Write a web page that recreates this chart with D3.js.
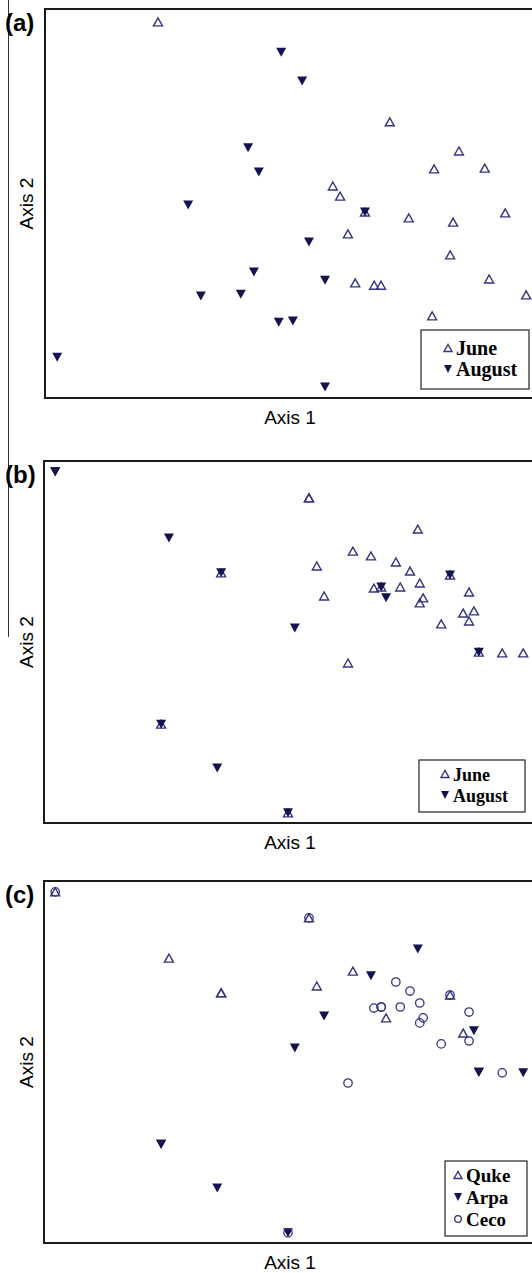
<!DOCTYPE html>
<html>
<head>
<meta charset="utf-8">
<script src="https://cdn.jsdelivr.net/npm/d3@7"></script>
<style>
  body { margin: 0; background: #fff; }
  svg { display: block; }
</style>
</head>
<body>
<div id="chart"></div>
<script>
// panel (a): ordination scores (0-100 units)
var juneA = [
  [23.2, 96.7], [70.8, 71.0], [85.0, 63.5], [79.9, 58.9], [90.3, 59.1],
  [59.1, 54.5], [60.6, 51.9], [74.7, 46.3], [83.8, 45.2], [94.5, 47.6],
  [62.2, 42.2], [83.2, 36.8], [63.7, 29.6], [67.6, 29.0], [69.0, 29.0],
  [91.2, 30.6], [98.8, 26.5], [79.5, 21.1], [65.7, 47.8]
];
var augustA = [
  [48.5, 88.9], [52.8, 81.5], [41.7, 64.3], [43.9, 58.1], [29.4, 49.6],
  [65.7, 47.8], [54.2, 40.1], [57.5, 30.3], [32.0, 26.2], [40.2, 26.7],
  [42.9, 32.4], [48.0, 19.5], [50.9, 19.8], [2.5, 10.5], [57.5, 2.8]
];

// panels (b) and (c): the same sites, grouped by month and by species
var siteX = [2.3, 2.3, 25.6, 36.3, 36.3, 54.3, 54.3, 76.6, 63.3, 67.0,
             55.9, 72.1, 75.0, 83.2, 83.2, 77.0, 67.6, 69.1, 69.1, 73.0,
             87.1, 57.4, 70.1, 77.7, 77.0, 88.1, 85.9, 87.1, 81.4, 51.4,
             62.3, 89.1, 89.1, 93.9, 98.2, 24.0, 24.0, 35.5, 50.0, 50.0];
var siteY = [97.0, 97.0, 78.7, 69.1, 69.1, 89.8, 89.8, 81.2, 75.1, 73.8,
             71.0, 72.1, 69.6, 68.5, 68.5, 66.3, 64.9, 65.2, 65.2, 65.2,
             63.8, 62.7, 62.2, 62.2, 60.8, 58.6, 58.0, 55.8, 55.0, 53.9,
             44.2, 47.2, 47.2, 47.0, 47.0, 27.3, 27.3, 15.2, 2.8, 2.8];
var siteMonth = ["August", "August", "August", "June", "August", "June", "June", "June", "June", "June",
                 "June", "June", "June", "June", "August", "June", "June", "June", "August", "June",
                 "June", "June", "August", "June", "June", "June", "June", "June", "June", "August",
                 "June", "June", "August", "June", "June", "June", "August", "August", "June", "August"];
var siteSpecies = ["Quke", "Ceco", "Quke", "Quke", "Quke", "Quke", "Ceco", "Arpa", "Quke", "Arpa",
                   "Quke", "Ceco", "Ceco", "Quke", "Ceco", "Ceco", "Ceco", "Ceco", "Ceco", "Ceco",
                   "Ceco", "Arpa", "Quke", "Ceco", "Ceco", "Arpa", "Quke", "Ceco", "Ceco", "Arpa",
                   "Ceco", "Arpa", "Arpa", "Ceco", "Arpa", "Arpa", "Arpa", "Arpa", "Arpa", "Ceco"];

var monthNames = ["June", "August"];
var speciesNames = ["Quke", "Arpa", "Ceco"];

var sites = siteX.map(function(x, i) {
  return { x: x, y: siteY[i], month: siteMonth[i], species: siteSpecies[i] };
});

var svgWidth = 532, svgHeight = 1273;
var openColor = "#34347f";
var fillColor = "#13134f";

var svg = d3.select("#chart").append("svg")
  .attr("width", svgWidth)
  .attr("height", svgHeight);

// thin crop line on the far left
svg.append("line")
  .attr("x1", 8.5).attr("x2", 8.5)
  .attr("y1", 0).attr("y2", 637)
  .attr("stroke", "#333").attr("stroke-width", 1);

// triangles centred on their bounding box, so an up and a down one make an hourglass
var triLine = d3.line();
function triangle(w, h, up) {
  var s = up ? 1 : -1;
  return triLine([[0, -s * h / 2], [-w / 2, s * h / 2], [w / 2, s * h / 2]]) + "Z";
}

function drawMarker(g, kind, cx, cy, small) {
  if (kind === "open") {
    g.append("path")
      .attr("d", small ? triangle(8, 7, true) : triangle(9, 8, true))
      .attr("transform", "translate(" + cx + "," + cy + ")")
      .attr("fill", "none")
      .attr("stroke", openColor)
      .attr("stroke-width", 1.4);
  } else if (kind === "filled") {
    g.append("path")
      .attr("d", small ? triangle(8, 8, false) : triangle(10, 9, false))
      .attr("transform", "translate(" + cx + "," + cy + ")")
      .attr("fill", fillColor);
  } else {
    g.append("circle")
      .attr("cx", cx).attr("cy", cy)
      .attr("r", small ? 3.3 : 4.2)
      .attr("fill", "none")
      .attr("stroke", openColor)
      .attr("stroke-width", 1.3);
  }
}

function drawPanel(p) {
  var g = svg.append("g");

  var xScale = d3.scaleLinear().domain([0, 100]).range([p.left, 532]);
  var yScale = d3.scaleLinear().domain([0, 100]).range([p.bottom, p.top]);

  // frame (right edge runs off the page)
  g.append("rect")
    .attr("x", p.left).attr("y", p.top)
    .attr("width", 600).attr("height", p.bottom - p.top)
    .attr("fill", "none")
    .attr("stroke", "#1a1a1a")
    .attr("stroke-width", 2);

  g.append("text")
    .attr("x", 5).attr("y", p.top + 22)
    .attr("font-family", "Liberation Sans, Arial, sans-serif")
    .attr("font-weight", "bold")
    .attr("font-size", 24)
    .text(p.label);

  g.append("text")
    .attr("transform", "translate(33," + ((p.top + p.bottom) / 2) + ") rotate(-90)")
    .attr("text-anchor", "middle")
    .attr("font-family", "Liberation Sans, Arial, sans-serif")
    .attr("font-size", 19)
    .text("Axis 2");

  g.append("text")
    .attr("x", 290).attr("y", p.bottom + 26)
    .attr("text-anchor", "middle")
    .attr("font-family", "Liberation Sans, Arial, sans-serif")
    .attr("font-size", 19)
    .text("Axis 1");

  p.points.forEach(function(d) {
    drawMarker(g, d.kind, xScale(d.x), yScale(d.y), false);
  });

  // legend
  var lg = g.append("g").attr("transform", "translate(" + p.legend.x + "," + p.legend.y + ")");
  lg.append("rect")
    .attr("width", p.legend.w).attr("height", p.legend.h)
    .attr("fill", "#fff")
    .attr("stroke", "#222")
    .attr("stroke-width", 1.2);
  p.legend.items.forEach(function(it, i) {
    var cy = p.legend.firstRow + i * p.legend.step;
    drawMarker(lg, it.kind, p.legend.symX, cy, true);
    lg.append("text")
      .attr("x", p.legend.symX + 8)
      .attr("y", cy + 7)
      .attr("font-family", "Liberation Serif, Times New Roman, serif")
      .attr("font-weight", "bold")
      .attr("font-size", p.legend.fontSize)
      .text(it.name);
  });
}

var monthKind = { June: "open", August: "filled" };
var speciesKind = { Quke: "open", Arpa: "filled", Ceco: "circle" };

drawPanel({
  label: "(a)", left: 45, top: 9, bottom: 398,
  points: juneA.map(function(d) { return { x: d[0], y: d[1], kind: "open" }; })
    .concat(augustA.map(function(d) { return { x: d[0], y: d[1], kind: "filled" }; })),
  legend: { x: 421, y: 330, w: 108, h: 59, symX: 27, firstRow: 18, step: 21, fontSize: 20,
    items: monthNames.map(function(m) { return { name: m, kind: monthKind[m] }; }) }
});

drawPanel({
  label: "(b)", left: 44, top: 461, bottom: 823,
  points: sites.map(function(s) { return { x: s.x, y: s.y, kind: monthKind[s.month] }; }),
  legend: { x: 419, y: 760, w: 106, h: 52, symX: 26, firstRow: 14, step: 21, fontSize: 18,
    items: monthNames.map(function(m) { return { name: m, kind: monthKind[m] }; }) }
});

drawPanel({
  label: "(c)", left: 44, top: 881, bottom: 1243,
  points: sites.map(function(s) { return { x: s.x, y: s.y, kind: speciesKind[s.species] }; }),
  legend: { x: 445, y: 1161, w: 82, h: 75, symX: 13, firstRow: 14, step: 22, fontSize: 19,
    items: speciesNames.map(function(s) { return { name: s, kind: speciesKind[s] }; }) }
});
</script>
</body>
</html>
